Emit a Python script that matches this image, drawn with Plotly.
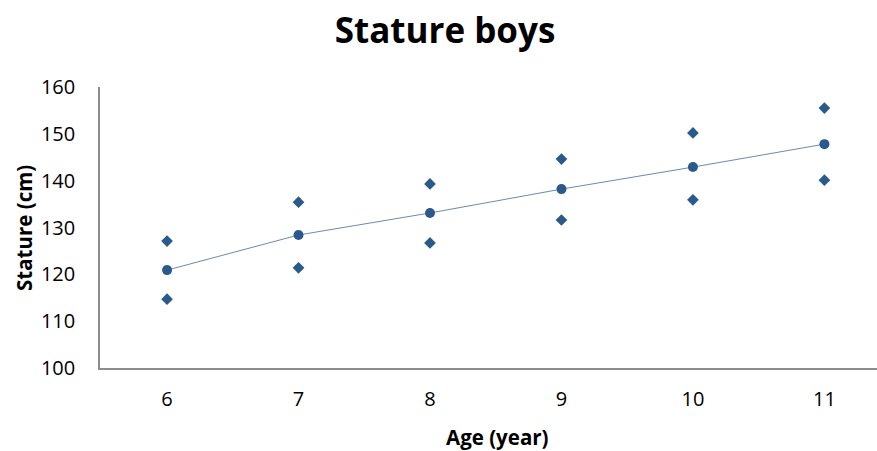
import plotly.graph_objects as go

ages = [6, 7, 8, 9, 10, 11]
mean_stature = [120.9, 128.4, 133.1, 138.2, 142.9, 147.8]
upper_stature = [127.1, 135.4, 139.3, 144.6, 150.2, 155.5]
lower_stature = [114.7, 121.4, 126.7, 131.6, 135.9, 140.1]
y_ticks = [100, 110, 120, 130, 140, 150, 160]

W, H = 877, 451
L, R, T, B = 100, 0, 87, 83
PW, PH = W - L - R, H - T - B

def px(x):
    return (x - L) / PW

def py(y):
    return (H - B - y) / PH

dark = "#2a5a8c"
fig = go.Figure()
fig.add_trace(go.Scatter(x=ages, y=upper_stature, mode="markers",
                         marker=dict(symbol="diamond", size=9, color=dark)))
fig.add_trace(go.Scatter(x=ages, y=lower_stature, mode="markers",
                         marker=dict(symbol="diamond", size=9, color=dark)))
fig.add_trace(go.Scatter(x=ages, y=mean_stature, mode="lines+markers",
                         line=dict(color="#6a8bb0", width=1),
                         marker=dict(symbol="circle", size=10, color=dark)))

font = "Open Sans"
fig.update_layout(
    width=W, height=H,
    margin=dict(l=L, r=R, t=T, b=B),
    paper_bgcolor="white", plot_bgcolor="white",
    showlegend=False,
    font=dict(family=font, color="#000"),
    title=dict(text="<b>Stature boys</b>", x=445/W, xref="container", xanchor="center",
               y=1-31/H, yref="container", yanchor="middle",
               font=dict(size=35, family=font, color="#000")),
    xaxis=dict(range=[5.49, 11.4], tickvals=ages, ticktext=[str(a) for a in ages],
               showgrid=False, zeroline=False, showline=True, linecolor="#8c8c8c",
               linewidth=1.5, ticks="", tickfont=dict(size=20), ticklabelstandoff=12),
    yaxis=dict(range=[100, 160], tickvals=y_ticks, showgrid=False, zeroline=False,
               showline=True, linecolor="#8c8c8c", linewidth=1.5, ticks="",
               tickfont=dict(size=20), ticklabelstandoff=19),
    annotations=[
        dict(text="<b>Age (year)</b>", x=px(497), y=py(437), xref="paper", yref="paper",
             showarrow=False, font=dict(size=20.5, family=font), xanchor="center", yanchor="middle"),
        dict(text="<b>Stature (cm)</b>", x=px(24), y=py(228), xref="paper", yref="paper",
             showarrow=False, font=dict(size=20.5, family=font), textangle=-90,
             xanchor="center", yanchor="middle"),
    ],
)
fig.write_html("out.html")
